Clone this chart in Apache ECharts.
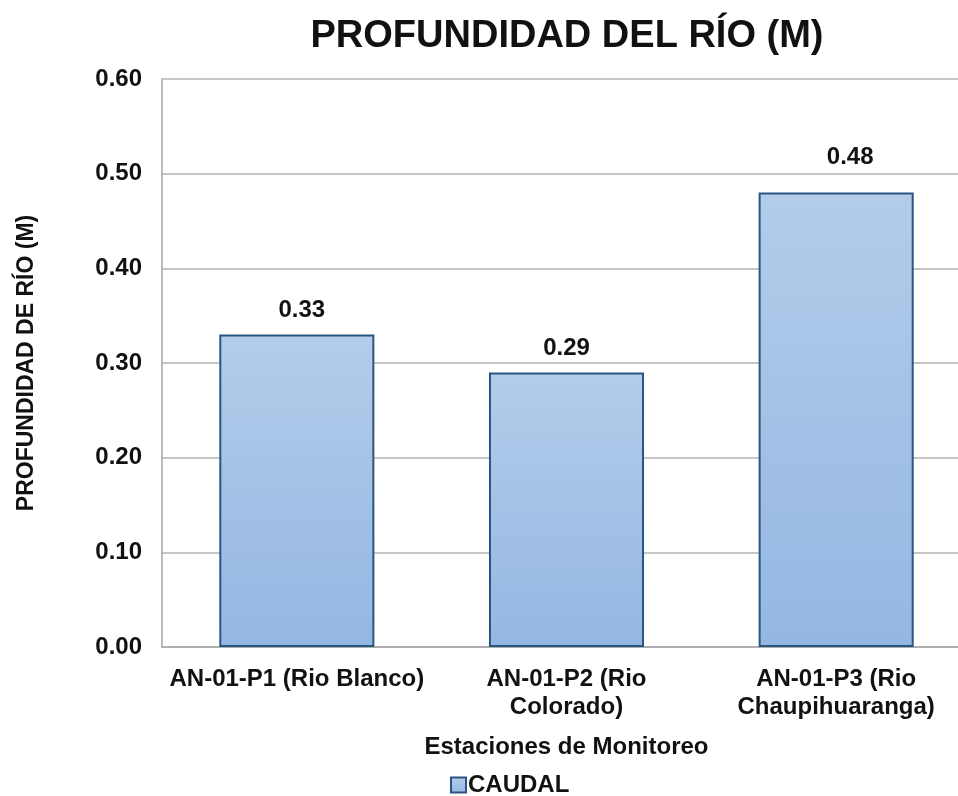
<!DOCTYPE html>
<html>
<head>
<meta charset="utf-8">
<script src="https://cdn.jsdelivr.net/npm/echarts@6/dist/echarts.min.js"></script>
<style>
  html, body { margin: 0; padding: 0; background: #fff; overflow: hidden; }
  /* plot area runs slightly past the right edge of the page */
  #chart { width: 971px; height: 796px; }
</style>
</head>
<body>
<div id="chart"></div>
<script>
// Stations and measured river depth (m)
var stations = ['AN-01-P1 (Rio Blanco)', 'AN-01-P2 (Rio\nColorado)', 'AN-01-P3 (Rio\nChaupihuaranga)'];
var depth = [0.33, 0.29, 0.48];
var seriesName = 'CAUDAL';
var yTicks = { min: 0, max: 0.6, interval: 0.1 };

var font = 'Arial, "Liberation Sans", sans-serif';

// hand-placed value labels: small nudges per bar
var labelNudge = [[5, 1], [0, 1], [14, -10]];

var barData = depth.map(function (v, i) {
  return { value: v, label: { offset: labelNudge[i] } };
});

var chart = echarts.init(document.getElementById('chart'));

chart.setOption({
  backgroundColor: '#ffffff',
  animation: false,
  title: {
    text: 'PROFUNDIDAD DEL RÍO (M)',
    left: 562,
    textAlign: 'center',
    top: 13,
    textStyle: { fontFamily: font, fontWeight: 'bold', fontSize: 38, color: '#111' }
  },
  grid: { left: 162, top: 79, right: 0, bottom: 149, containLabel: false },
  legend: {
    data: [seriesName],
    left: 445,
    top: 768,
    itemWidth: 15,
    itemHeight: 15,
    itemGap: 4,
    icon: 'rect',
    textStyle: { fontFamily: font, fontWeight: 'bold', fontSize: 24, color: '#111', padding: [0, 0, 0, -3] }
  },
  xAxis: {
    type: 'category',
    data: stations,
    name: 'Estaciones de Monitoreo',
    nameLocation: 'middle',
    nameGap: 88,
    nameTextStyle: { fontFamily: font, fontWeight: 'bold', fontSize: 24, color: '#111' },
    axisLine: { lineStyle: { color: '#A6A6A6', width: 1.5 } },
    axisTick: { show: false },
    axisLabel: {
      margin: 18,
      interval: 0,
      lineHeight: 28,
      fontFamily: font, fontWeight: 'bold', fontSize: 24, color: '#111'
    }
  },
  yAxis: {
    type: 'value',
    min: yTicks.min,
    max: yTicks.max,
    interval: yTicks.interval,
    name: 'PROFUNDIDAD DE RÍO (M)',
    nameLocation: 'middle',
    nameGap: 124,
    nameRotate: 90,
    nameTextStyle: { fontFamily: font, fontWeight: 'bold', fontSize: 23, color: '#111' },
    axisLine: { show: true, lineStyle: { color: '#A6A6A6', width: 1.5 } },
    axisTick: { show: false },
    splitLine: { lineStyle: { color: '#B3B3B3', width: 1.5 } },
    axisLabel: {
      margin: 20,
      fontFamily: font, fontWeight: 'bold', fontSize: 24, color: '#111',
      formatter: function (v) { return v.toFixed(2); }
    }
  },
  series: [{
    name: seriesName,
    type: 'bar',
    data: barData,
    barWidth: '57.5%',
    itemStyle: {
      color: new echarts.graphic.LinearGradient(0, 0, 0, 1, [
        { offset: 0, color: '#B3CCEA' },
        { offset: 1, color: '#94B7E2' }
      ]),
      borderColor: '#2A5580',
      borderWidth: 2
    },
    label: {
      show: true,
      position: 'top',
      distance: 13,
      fontFamily: font, fontWeight: 'bold', fontSize: 24, color: '#111',
      formatter: function (p) { return p.value.toFixed(2); }
    }
  }]
});
</script>
</body>
</html>
